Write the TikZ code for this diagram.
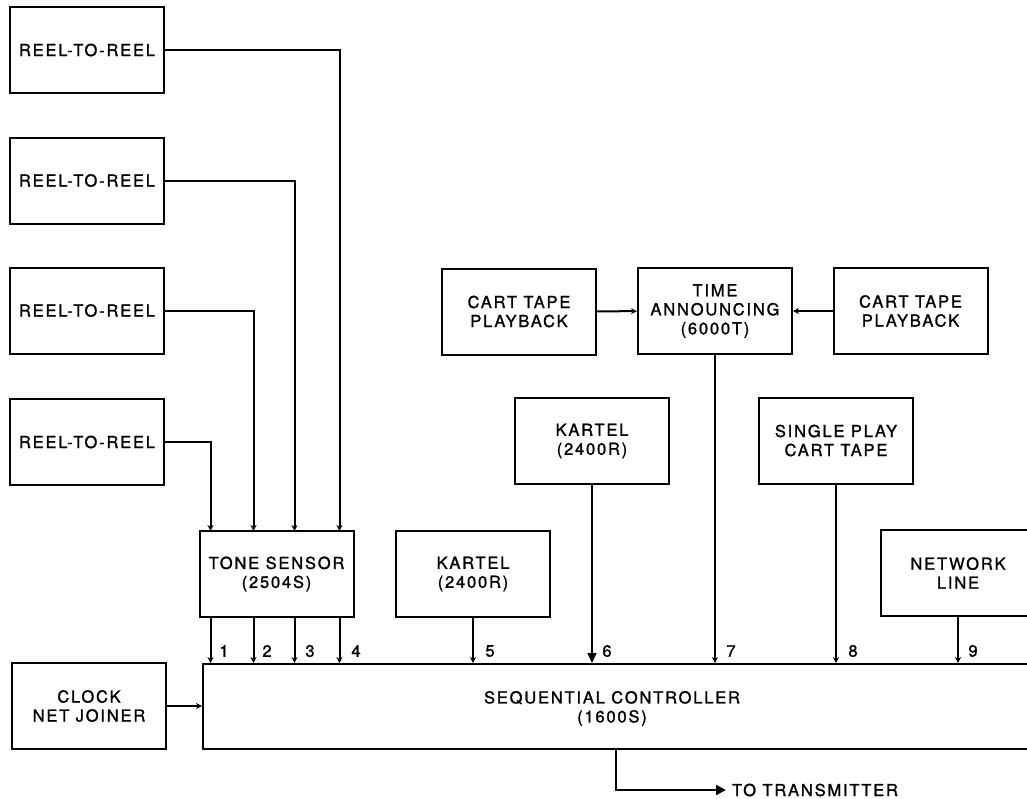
\documentclass[tikz,border=0pt]{standalone}
\usepackage{fontspec}
\newfontfamily\labfont{TeX Gyre Heros}[LetterSpace=11,FakeBold=1.3]
\usetikzlibrary{arrows.meta,calc}
\begin{document}
\begin{tikzpicture}[x=1pt,y=-1pt,line width=2pt,
  txt/.style={font={\labfont\fontsize{16.5}{19}\selectfont},align=center,inner sep=0pt},
  box/.style={txt,draw,line width=2pt,minimum width=154pt,minimum height=86pt},
  num/.style={txt,anchor=center},
  sarr/.style={line width=2pt,-{Stealth[length=6pt,width=6pt]}},
  barr/.style={line width=2pt,-{Triangle[length=10pt,width=9pt]}},
  tarr/.style={line width=2pt,-{Triangle[length=10pt,width=10pt]}}]
\useasboundingbox (0,0) rectangle (1027,798);
% source boxes
\node[box] (reel1) at (87,50) {REEL-TO-REEL};
\node[box] (reel2) at (87,180.5) {REEL-TO-REEL};
\node[box] (reel3) at (87,310.5) {REEL-TO-REEL};
\node[box] (reel4) at (87,442) {REEL-TO-REEL};
\node[box] (tone) at (276.5,574) {TONE SENSOR\\(2504S)};
\node[box] (kart5) at (473,574) {KARTEL\\(2400R)};
\node[box] (kart6) at (592,441) {KARTEL\\(2400R)};
\node[box] (cartL) at (519,311.5) {CART TAPE\\PLAYBACK};
\node[box] (time) at (715,311) {TIME\\ANNOUNCING\\(6000T)};
\node[box] (cartR) at (910.5,311) {CART TAPE\\PLAYBACK};
\node[box] (single) at (836,440.5) {SINGLE PLAY\\CART TAPE};
\node[box] (net) at (958,573) {NETWORK\\LINE};
\node[box] (clock) at (89,706) {CLOCK\\NET JOINER};
% controller
\node[draw,line width=2pt,minimum width=840pt,minimum height=85pt,anchor=north west,inner sep=0pt] (ctrl) at (202,663) {};
\node[txt] (ctrltext) at (612,708.5) {SEQUENTIAL CONTROLLER\\(1600S)};
% tone sensor inputs
\coordinate (t1) at (210.5,531);
\coordinate (t2) at (253.5,531);
\coordinate (t3) at (294.5,531);
\coordinate (t4) at (339.5,531);
\draw[sarr] (reel1.east) -| (t4);
\draw[sarr] (reel2.east) -| (t3);
\draw[sarr] (reel3.east) -| (t2);
\draw[sarr] (reel4.east) -| (t1);
% controller inputs
\coordinate (c1) at (210.5,663);
\coordinate (c2) at (253.5,663);
\coordinate (c3) at (294.5,663);
\coordinate (c4) at (339.5,663);
\coordinate (c5) at (473,663);
\coordinate (c6) at (592,663);
\coordinate (c7) at (715,663);
\coordinate (c8) at (836,663);
\coordinate (c9) at (958,663);
\draw[sarr] (tone.south -| c1) -- (c1);
\draw[sarr] (tone.south -| c2) -- (c2);
\draw[sarr] (tone.south -| c3) -- (c3);
\draw[sarr] (tone.south -| c4) -- (c4);
\draw[sarr] (kart5.south) -- (c5);
\draw[barr] (kart6.south) -- (c6);
\draw[sarr] (time.south) -- (c7);
\draw[sarr] (single.south) -- (c8);
\draw[sarr] (net.south) -- (c9);
\node[num] (n1) at (224,651) {1};
\node[num] (n2) at (267,651) {2};
\node[num] (n3) at (310,651) {3};
\node[num] (n4) at (356,651) {4};
\node[num] (n5) at (490,651) {5};
\node[num] (n6) at (607,651) {6};
\node[num] (n7) at (731,651) {7};
\node[num] (n8) at (853,651) {8};
\node[num] (n9) at (973,651) {9};
% other links
\draw[sarr] (cartL) -- (time);
\draw[sarr] (cartR) -- (time);
\draw[sarr] (clock.east) -- (clock.east -| ctrl.west);
% output
\node[txt,anchor=west,inner xsep=5pt] (tx) at (726,790) {TO TRANSMITTER};
\coordinate (tout) at (616,748);
\draw[tarr] (tout) |- (tx.west);
\end{tikzpicture}
\end{document}
